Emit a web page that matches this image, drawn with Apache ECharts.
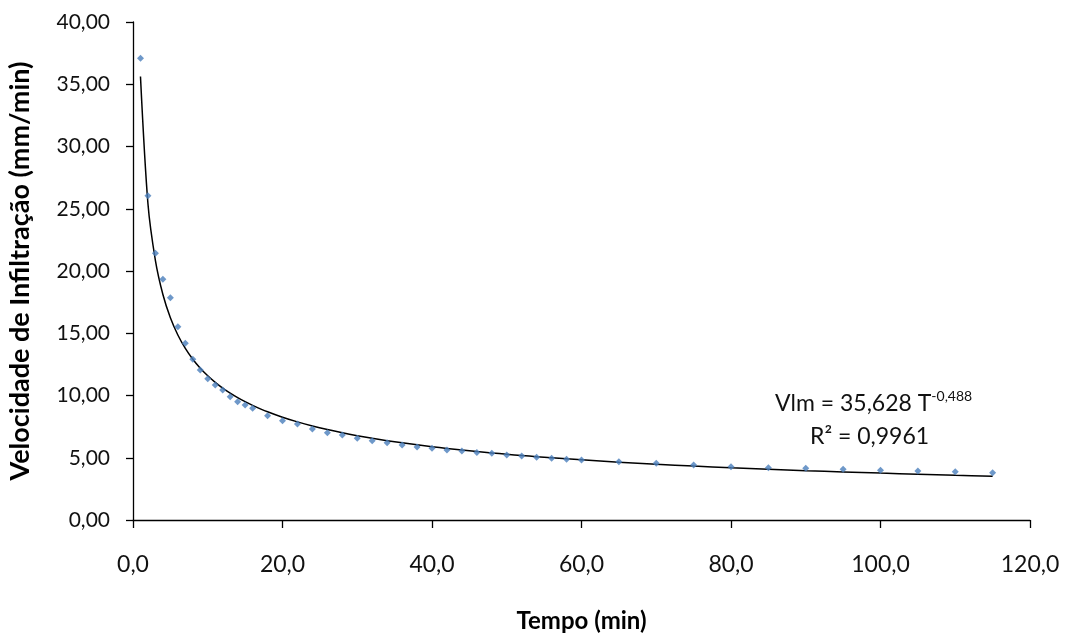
<!DOCTYPE html>
<html>
<head>
<meta charset="utf-8">
<script src="https://cdn.jsdelivr.net/npm/echarts@6/dist/echarts.min.js"></script>
<style>html,body{margin:0;padding:0;background:#fff;}#chart{width:1069px;height:638px;}</style>
</head>
<body>
<div id="chart"></div>
<script>
const tempo = [1,2,3,4,5,6,7,8,9,10,11,12,13,14,15,16,18,20,22,24,26,28,30,32,34,36,38,40,42,44,46,48,50,52,54,56,58,60,65,70,75,80,85,90,95,100,105,110,115];
const velocidade = [37.08,26.05,21.42,19.33,17.85,15.53,14.19,12.91,12.05,11.35,10.84,10.44,9.90,9.50,9.24,8.97,8.38,7.97,7.71,7.31,7.01,6.83,6.56,6.37,6.21,6.02,5.86,5.77,5.62,5.54,5.43,5.36,5.22,5.14,5.04,4.95,4.88,4.82,4.68,4.55,4.42,4.28,4.20,4.15,4.07,3.99,3.94,3.88,3.80];
// Trendline coefficients printed on the chart
const trendA = 35.628;
const trendB = -0.488;
const r2Text = '0,9961';
const xTicks = [0,20,40,60,80,100,120];
const yTicks = [0,5,10,15,20,25,30,35,40];

const scatterData = tempo.map((t,i)=>[t, velocidade[i]]);
const trendData = tempo.map(t=>[t, trendA*Math.pow(t, trendB)]);

const FONT = 'Lato';
const chart = echarts.init(document.getElementById('chart'));
chart.setOption({
  backgroundColor:'#fff',
  animation:false,
  grid:{left:133, right:39, top:22, bottom:118, containLabel:false, outerBoundsMode:'none'},
  xAxis:{
    type:'value', min:xTicks[0], max:xTicks[xTicks.length-1], interval:20,
    name:'Tempo (min)', nameLocation:'middle', nameGap:89,
    nameTextStyle:{fontFamily:FONT, fontWeight:'bold', fontSize:24, color:'#000'},
    axisLine:{show:true, lineStyle:{color:'#000', width:1.3}},
    axisTick:{show:true, length:8, lineStyle:{color:'#000', width:1.3}},
    axisLabel:{fontFamily:FONT, fontSize:23, color:'#111', margin:33,
      formatter:v=>v.toFixed(1).replace('.',',')},
    splitLine:{show:false}
  },
  yAxis:{
    type:'value', min:yTicks[0], max:yTicks[yTicks.length-1], interval:5,
    name:'Velocidade de Infiltração (mm/min)', nameLocation:'middle', nameGap:99, nameRotate:90,
    nameTextStyle:{fontFamily:FONT, fontWeight:'bold', fontSize:27, color:'#000'},
    axisLine:{show:true, lineStyle:{color:'#000', width:1.3}},
    axisTick:{show:true, length:7, lineStyle:{color:'#000', width:1.3}},
    axisLabel:{fontFamily:FONT, fontSize:21, color:'#111', margin:23,
      formatter:v=>v.toFixed(2).replace('.',',')},
    splitLine:{show:false}
  },
  series:[
    {type:'line', data:trendData, showSymbol:false, smooth:0.3,
     lineStyle:{color:'#000', width:1.5}, z:2},
    {type:'scatter', data:scatterData, symbol:'diamond', symbolSize:7,
     itemStyle:{color:'#4a7ebb'}, z:3}
  ],
  graphic:[
    {type:'text', left:775, top:389, style:{
      text:'{n|Vlm = 35,628 T}{s|-0,488}',
      rich:{n:{fontFamily:FONT, fontSize:23, fill:'#111', verticalAlign:'bottom'},
            s:{fontFamily:FONT, fontSize:14, fill:'#111', verticalAlign:'top', padding:[0,0,12,0]}}
    }},
    {type:'text', left:810, top:425, style:{
      text:'R² = ' + r2Text, fontFamily:FONT, fontSize:23, fill:'#111'
    }}
  ]
});
</script>
</body>
</html>
